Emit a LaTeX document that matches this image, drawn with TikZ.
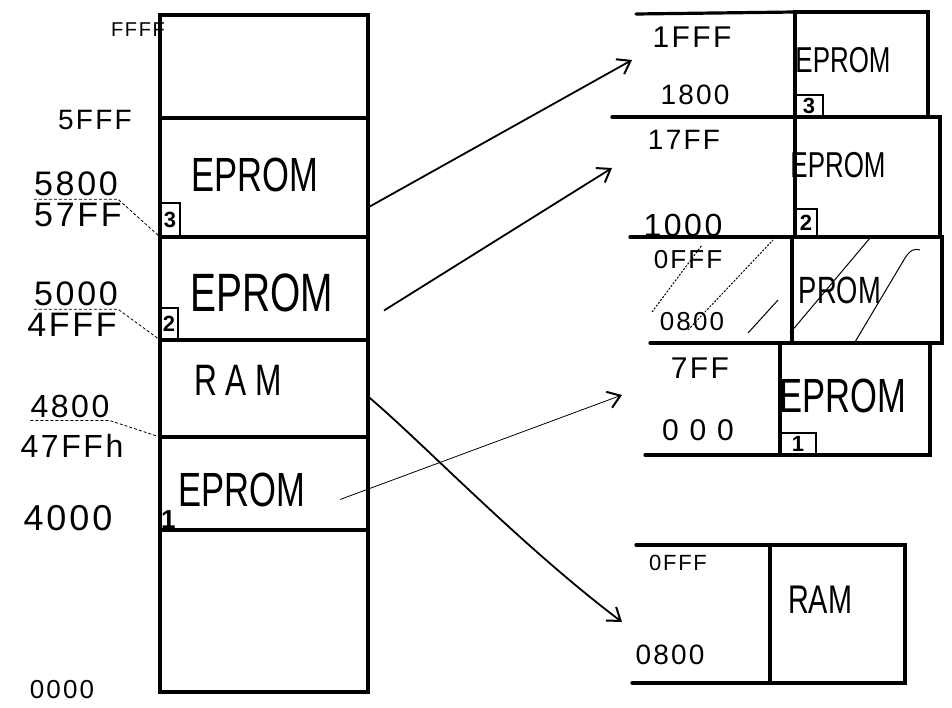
\documentclass[tikz,border=0pt]{standalone}
\usepackage{fontspec}
\setmainfont{Liberation Sans}
\newfontfamily\hand[FakeStretch=0.72]{Liberation Sans}
\newfontfamily\handwide[LetterSpace=8]{Liberation Sans}
\usepackage{tikz}
\usetikzlibrary{arrows.meta,positioning,calc}

\begin{document}
\begin{tikzpicture}[x=1pt,y=-1pt,
    cell/.style={draw,line width=3.2pt,inner sep=0pt,outer sep=0pt},
    rule/.style={line width=3.2pt,line cap=round},
    word/.style={font=\hand\fontsize{#1}{#1}\selectfont,inner sep=0pt},
    addr/.style={font=\handwide\fontsize{#1}{#1}\selectfont,inner sep=0pt},
    numbox/.style={draw,line width=2pt,inner sep=0pt,outer sep=0pt,font=\bfseries\fontsize{22}{22}\selectfont},
    link/.style={line width=1.8pt,-{Straight Barb[length=12pt,width=17pt,line width=2pt]}},
    guide/.style={line width=0.8pt,dash pattern=on 3pt off 2pt},
    hatch/.style={line width=1pt}]
  \useasboundingbox (0,0) rectangle (952,708);

  % left: the whole address space
  \node[cell,minimum width=208pt,minimum height=103pt] (ltop) at (264,66.5) {};
  \node[cell,minimum width=208pt,minimum height=119pt,below=0pt of ltop] (lep3) {};
  \node[cell,minimum width=208pt,minimum height=103pt,below=0pt of lep3] (lep2) {};
  \node[cell,minimum width=208pt,minimum height=97pt,below=0pt of lep2] (lram) {};
  \node[cell,minimum width=208pt,minimum height=93pt,below=0pt of lram] (lep1) {};
  \node[cell,minimum width=208pt,minimum height=162pt,below=0pt of lep1] (lbot) {};

  \node[word=48] (wep3) at (255,175) {EPROM};
  \node[word=54] (wep2) at (262,293) {EPROM};
  \node[word=44] (wram) at (238,380) {R A M};
  \node[word=48] (wep1) at (242,490) {EPROM};

  \node[numbox,minimum width=20pt,minimum height=34pt,anchor=south west] (lbox3) at (lep3.south west) {3};
  \node[numbox,minimum width=18pt,minimum height=32pt,anchor=south west] (lbox2) at (lep2.south west) {2};
  \node[inner sep=1pt,anchor=south west,font=\bfseries\fontsize{26}{26}\selectfont] (lbox1) at (lep1.south west) {1};

  \node[addr=20] (aFFFF) at (138,30) {FFFF};
  \node[addr=28] (a5FFF) at (95,120) {5FFF};
  \node[addr=34] (a5800) at (76,184) {5800};
  \node[addr=34] (a57FF) at (78,215) {57FF};
  \node[addr=34] (a5000) at (76,294) {5000};
  \node[addr=34] (a4FFF) at (72,325) {4FFF};
  \node[addr=32] (a4800) at (70,406) {4800};
  \node[addr=32] (a47FF) at (72,446) {47FFh};
  \node[addr=36] (a4000) at (68,518) {4000};
  \node[addr=26] (a0000) at (62,690) {0000};

  \draw[guide] ([yshift=-3pt]a5800.south west) -- ([yshift=-3pt]a5800.south east) -- (lbox3.south west);
  \draw[guide] ([yshift=-3pt]a5000.south west) -- ([yshift=-3pt]a5000.south east) -- (lbox2.south west);
  \draw[guide] ([yshift=-3pt]a4800.south west) -- ([yshift=-3pt]a4800.south east) -- (lep1.north west);

  % right: the chips
  \node[cell,minimum width=133pt,minimum height=105pt] (r3) at (861.5,64.5) {};
  \node[cell,minimum width=145pt,minimum height=120pt] (r2) at (867.5,177) {};
  \node[cell,minimum width=150pt,minimum height=106pt] (rp) at (867,290) {};
  \node[cell,minimum width=150pt,minimum height=112pt] (r1) at (855,399) {};
  \node[cell,minimum width=135pt,minimum height=138pt] (rram) at (837.5,614) {};

  \draw[rule] (636,14) -- (r3.north west);
  \draw[rule] (612,117) -- (r3.south west);
  \draw[rule] (630,237) -- (rp.north west);
  \draw[rule] (650,343) -- (r1.north west);
  \draw[rule] (645,455) -- (r1.south west);
  \draw[rule] (636,545) -- (rram.north west);
  \draw[rule] (632,683) -- (rram.south west);

  \node[word=36] (wr3) at (843,60) {EPROM};
  \node[word=36] (wr2) at (838,165) {EPROM};
  \node[word=38] (wrp) at (840,290) {PROM};
  \node[word=48] (wr1) at (843,396) {EPROM};
  \node[word=40] (wrram) at (820,600) {RAM};

  \node[numbox,minimum width=28pt,minimum height=22pt,anchor=south west] (rbox3) at (r3.south west) {3};
  \node[numbox,minimum width=22pt,minimum height=28pt,anchor=south west] (rbox2) at (r2.south west) {2};
  \node[numbox,minimum width=36pt,minimum height=22pt,anchor=south west] (rbox1) at (r1.south west) {1};

  \node[addr=30] (b1FFF) at (692,37) {1FFF};
  \node[addr=28] (b1800) at (695,95) {1800};
  \node[addr=28] (b17FF) at (684,140) {17FF};
  \node[addr=32] (b1000) at (683,225) {1000};
  \node[addr=26] (b0FFF) at (688,260) {0FFF};
  \node[addr=26] (b0800) at (692,322) {0800};
  \node[addr=30] (b7FF) at (700,368) {7FF};
  \node[addr=30] (b000) at (698,430) {0 0 0};
  \node[addr=22] (c0FFF) at (678,563) {0FFF};
  \node[addr=28] (c0800) at (670,655) {0800};

  % crossed out
  \draw[hatch,dash pattern=on 2pt off 1.5pt] (652,312) -- (702,245);
  \draw[hatch,dash pattern=on 2pt off 1.5pt] (688,330) -- (773,240);
  \draw[hatch] (748,333) -- (778,300);
  \draw[hatch] (790,333) -- (870,238);
  \draw[hatch] (855,342) -- (905,258) .. controls (910,250) and (915,248) .. (920,250);

  % mapping
  \coordinate (t3) at (632,60);
  \coordinate (t2) at (612,168);
  \coordinate (t1) at (622,395);
  \coordinate (tram) at (622,622);
  \draw[link] ([yshift=-30pt]lep3.east) -- (t3);
  \draw[link] ([shift={(16pt,-22pt)}]lep2.east) -- (t2);
  \draw[link,line width=0.8pt] ([shift={(76pt,-16pt)}]lep1.center) -- (t1);
  \draw[link] ([yshift=-8pt]lram.east) .. controls (420,440) and (520,545) .. (tram);
\end{tikzpicture}
\end{document}
